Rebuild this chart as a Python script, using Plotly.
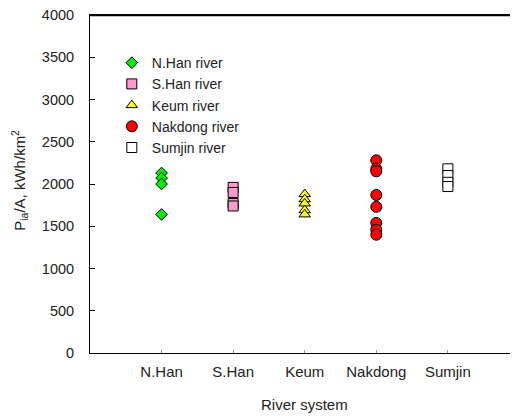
import plotly.graph_objects as go

categories = ["N.Han", "S.Han", "Keum", "Nakdong", "Sumjin"]
nhan = [2130, 2070, 2000, 1640]
shan = [1960, 1900, 1770, 1740]
keum = [1880, 1820, 1770, 1690, 1640]
nakdong = [2280, 2180, 2150, 1870, 1730, 1540, 1460, 1400]
sumjin = [2180, 2100, 2020, 1970]
y_ticks = [0, 500, 1000, 1500, 2000, 2500, 3000, 3500, 4000]

series = [
    ("N.Han river", 1, nhan, "diamond", "#00ee00", 9),
    ("S.Han river", 2, shan, "square", "#ff99cc", 10),
    ("Keum river", 3, keum, "triangle-up", "#ffff00", 10),
    ("Nakdong river", 4, nakdong, "circle", "#ff0000", 11),
    ("Sumjin river", 5, sumjin, "square", "#ffffff", 10),
]

fig = go.Figure()
for name, pos, vals, sym, col, sz in series:
    fig.add_trace(go.Scatter(
        x=[pos] * len(vals), y=vals, mode="markers", name=name,
        marker=dict(symbol=sym, color=col, size=sz, line=dict(color="black", width=1)),
    ))

font = "Liberation Sans, Arial, sans-serif"
fig.update_layout(
    width=510, height=408,
    margin=dict(l=82, r=0, t=7, b=63),
    paper_bgcolor="white", plot_bgcolor="white",
    font=dict(family=font, size=15, color="#222"),
    showlegend=True,
    legend=dict(x=0.051, y=0.905, xanchor="left", yanchor="top",
                bgcolor="rgba(0,0,0,0)", font=dict(size=14),
                itemwidth=30, tracegroupgap=0),
    xaxis=dict(range=[0, 5.98], tickvals=[1, 2, 3, 4, 5], ticktext=categories,
               showgrid=False, zeroline=False, showline=True, linecolor="black",
               linewidth=1, mirror=True, ticks="inside", ticklen=3, tickcolor="#999",
               ticklabelstandoff=5, automargin=False, ticklabeloverflow="allow"),
    yaxis=dict(range=[0, 4000], tickvals=y_ticks,
               showgrid=False, zeroline=False, showline=True, linecolor="black",
               linewidth=1, mirror=False, ticks="inside", ticklen=5, tickcolor="black",
               ticklabelstandoff=12, automargin=False, ticklabeloverflow="allow",
               tickfont=dict(size=14.5)),
    shapes=[dict(type="line", xref="paper", yref="paper", x0=0, x1=1, y0=0.9985, y1=0.9985,
                 line=dict(color="black", width=1.3), layer="above")],
    annotations=[
        dict(text="River system", xref="x", yref="paper", x=3, y=-0.151,
             xanchor="center", yanchor="middle", showarrow=False, font=dict(size=15)),
        dict(text="P<sub>ia</sub>/A, kWh/km<sup>2</sup>", xref="paper", yref="paper",
             x=-0.164, y=0.512, xanchor="center", yanchor="middle", textangle=-90,
             showarrow=False, font=dict(size=15)),
    ],
)
fig.write_html("out.html")
